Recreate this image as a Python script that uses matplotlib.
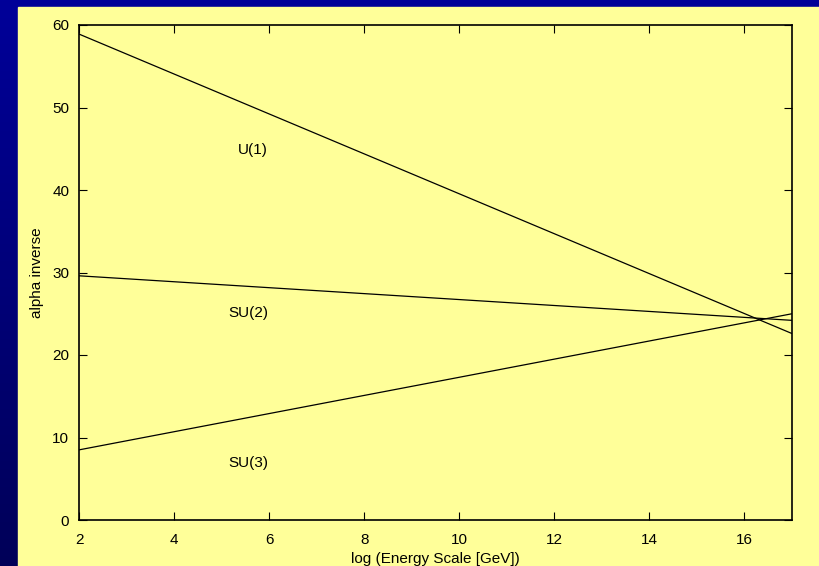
import numpy as np
import matplotlib
matplotlib.use("Agg")
import matplotlib.pyplot as plt

# Datos: recta de alpha inversa para cada grupo gauge (extremos en log E = 2 y 17)
log_e = [2, 17]
u1 = [58.9, 22.6]
su2 = [29.6, 24.2]
su3 = [8.5, 25.0]

etiquetas = ["U(1)", "SU(2)", "SU(3)"]
pos_etiquetas = [(5.35, 44.8), (5.15, 25.1), (5.15, 6.9)]

plt.rcParams['font.family'] = ['Liberation Sans', 'DejaVu Sans']

fig = plt.figure(figsize=(8.19, 5.66), dpi=100)

# Fondo azul en degradado
fondo = fig.add_axes([0, 0, 1, 1])
grad = np.linspace(0, 1, 256).reshape(-1, 1)
cmap = matplotlib.colors.LinearSegmentedColormap.from_list("azul", ["#000099", "#000058"])
fondo.imshow(grad, aspect="auto", cmap=cmap, extent=[0, 1, 0, 1], origin="upper")
# Panel amarillo
fondo.add_patch(plt.Rectangle((18 / 819, 0), 1, 1 - 7 / 566, color="#FFFF99"))
fondo.set_xlim(0, 1)
fondo.set_ylim(0, 1)
fondo.axis("off")

# Ejes del grafico
ax = fig.add_axes([79 / 819, 1 - 520 / 566, (792 - 79) / 819, (520 - 25) / 566])
ax.set_facecolor("none")
for serie in (u1, su2, su3):
    ax.plot(log_e, serie, color="black", lw=0.9)
for txt, (x, y) in zip(etiquetas, pos_etiquetas):
    ax.text(x, y, txt, fontsize=11, va="center")

ax.set_xlim(2, 17)
ax.set_ylim(0, 60)
ax.set_xticks(range(2, 17, 2))
ax.set_yticks(range(0, 61, 10))
ax.tick_params(direction="in", top=True, right=True, length=6, labelsize=11, pad=7)
ax.tick_params(axis="x", pad=9)
for s in ax.spines.values():
    s.set_linewidth(1.2)
ax.set_xlabel("log (Energy Scale [GeV])", fontsize=11, labelpad=4)
ax.set_ylabel("alpha inverse", fontsize=11, labelpad=6)

fig.savefig("out.png", dpi=100)
